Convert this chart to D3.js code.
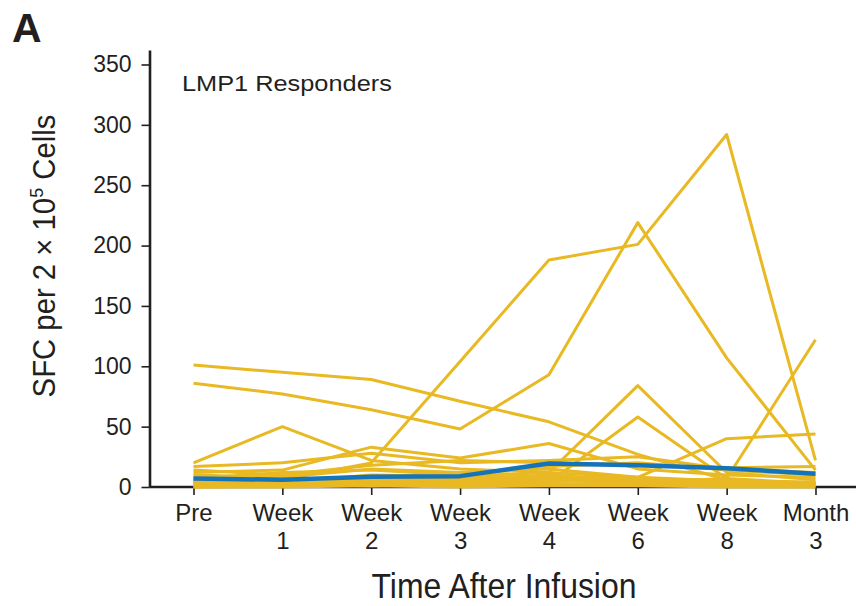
<!DOCTYPE html>
<html>
<head>
<meta charset="utf-8">
<script src="https://cdn.jsdelivr.net/npm/d3@7"></script>
<style>
  html, body { margin: 0; padding: 0; background: #fff; }
  svg { display: block; font-family: "Liberation Sans", Arial, Helvetica, sans-serif; }
</style>
</head>
<body>
<svg id="chart" width="856" height="606"></svg>
<script>
// ---- data ----
const categories = ["Pre", "Week 1", "Week 2", "Week 3", "Week 4", "Week 6", "Week 8", "Month 3"];
const yTicks = [0, 50, 100, 150, 200, 250, 300, 350];

// individual responders (SFC per 2x10^5 cells)
const patient1  = [8, 6, 20, 104, 188, 201, 292, 22];
const patient2  = [86, 77, 64, 48, 93, 219, 107, 14];
const patient3  = [101, 95, 89, 71, 54, 27, 6, 3];
const patient4  = [20, 50, 22, 15, 12, 8, 5, 4];
const patient5  = [12, 14, 33, 24, 36, 15, 10, 8];
const patient6  = [5, 4, 10, 9, 12, 84, 12, 6];
const patient7  = [3, 2, 5, 6, 4, 58, 7, 3];
const patient8  = [10, 8, 15, 12, 15, 8, 40, 44];
const patient9  = [4, 3, 6, 5, 8, 4, 7, 122];
const patient10 = [17, 20, 28, 20, 22, 25, 15, 12];
const patient11 = [14, 10, 18, 22, 20, 18, 16, 17];
const patient12 = [7, 12, 14, 10, 17, 20, 14, 10];
const patient13 = [2, 1, 3, 2, 5, 6, 3, 2];
const patient14 = [0, 1, 2, 1, 3, 2, 1, 1];
const patient15 = [5, 3, 4, 6, 10, 5, 4, 3];
const patient16 = [1, 2, 1, 3, 2, 3, 2, 2];
const patient17 = [3, 4, 2, 4, 6, 3, 2, 1];
const patient18 = [6, 5, 7, 8, 9, 7, 5, 4];
const patient19 = [0, 0, 1, 0, 1, 1, 0, 0];
const medianLine = [7, 6, 8.5, 9, 19.5, 18, 15.5, 11];

const patients = [patient1, patient2, patient3, patient4, patient5, patient6, patient7, patient8,
                  patient9, patient10, patient11, patient12, patient13, patient14, patient15, patient16,
                  patient17, patient18, patient19];

// ---- layout ----
const svg = d3.select("#chart");
const ink = "#231f20";
const yellow = "#e8b923";
const blue = "#1474bb";

const x = d3.scalePoint().domain(categories).range([193.5, 815.5]);
const y = d3.scaleLinear().domain([0, 362]).range([487, 50]);

function fitWidth(sel, target) {
  const w = sel.node().getComputedTextLength();
  return target / w;
}

// y axis
const yAxis = d3.axisLeft(y).tickValues(yTicks).tickSize(8).tickSizeOuter(0).tickPadding(10);
const gy = svg.append("g").attr("transform", "translate(149.5,0)").call(yAxis);
gy.select(".domain").attr("stroke", ink).attr("stroke-width", 2.6);
gy.selectAll(".tick line").attr("stroke", ink).attr("stroke-width", 1.6);
gy.selectAll(".tick text").attr("fill", ink).attr("font-size", 23).attr("font-family", "Liberation Sans, Arial, sans-serif");

// x axis
svg.append("line")
  .attr("x1", 149.5).attr("x2", 856)
  .attr("y1", y(0)).attr("y2", y(0))
  .attr("stroke", ink).attr("stroke-width", 2.6);
const xAxis = d3.axisBottom(x).tickSize(8).tickSizeOuter(0).tickFormat(() => "");
const gx = svg.append("g").attr("transform", `translate(0,${y(0)})`).call(xAxis);
gx.select(".domain").remove();
gx.selectAll(".tick line").attr("stroke", ink).attr("stroke-width", 1.6);
gx.selectAll(".tick").each(function(d) {
  const parts = d.split(" ");
  const t = d3.select(this).append("text")
    .attr("fill", ink).attr("font-size", 24).attr("text-anchor", "middle")
    .attr("font-family", "Liberation Sans, Arial, sans-serif");
  t.append("tspan").attr("x", 0).attr("y", 34).text(parts[0]);
  if (parts[1]) t.append("tspan").attr("x", 0).attr("y", 62).text(parts[1]);
});

// lines
const line = d3.line().x((d, i) => x(categories[i])).y(d => y(d));
svg.append("g").selectAll("path").data(patients).join("path")
  .attr("d", line)
  .attr("fill", "none")
  .attr("stroke", yellow)
  .attr("stroke-width", 3)
  .attr("stroke-linejoin", "round");

svg.append("path").datum(medianLine)
  .attr("d", line)
  .attr("fill", "none")
  .attr("stroke", blue)
  .attr("stroke-width", 4.5)
  .attr("stroke-linejoin", "round");

// panel letter
svg.append("text").attr("x", 12).attr("y", 42)
  .attr("font-size", 41).attr("font-weight", "bold").attr("fill", ink).text("A");

// inset title
const lt = svg.append("text").attr("font-size", 22).attr("fill", ink).text("LMP1 Responders");
const ls = fitWidth(lt, 210);
lt.attr("transform", `translate(182,91) scale(${ls},1)`);

// y title
const yt = svg.append("text").attr("font-size", 31).attr("fill", ink).attr("text-anchor", "middle");
yt.append("tspan").text("SFC per 2 × 10");
yt.append("tspan").attr("font-size", 19).attr("dy", -12).text("5");
yt.append("tspan").attr("dy", 12).text(" Cells");
const ys = fitWidth(yt, 283);
yt.attr("transform", `translate(55,256) rotate(-90) scale(${ys},1)`);

// x title
const xt = svg.append("text").attr("font-size", 36).attr("fill", ink).attr("text-anchor", "middle").text("Time After Infusion");
const xs = fitWidth(xt, 265);
xt.attr("transform", `translate(504,598) scale(${xs},1)`);
</script>
</body>
</html>
